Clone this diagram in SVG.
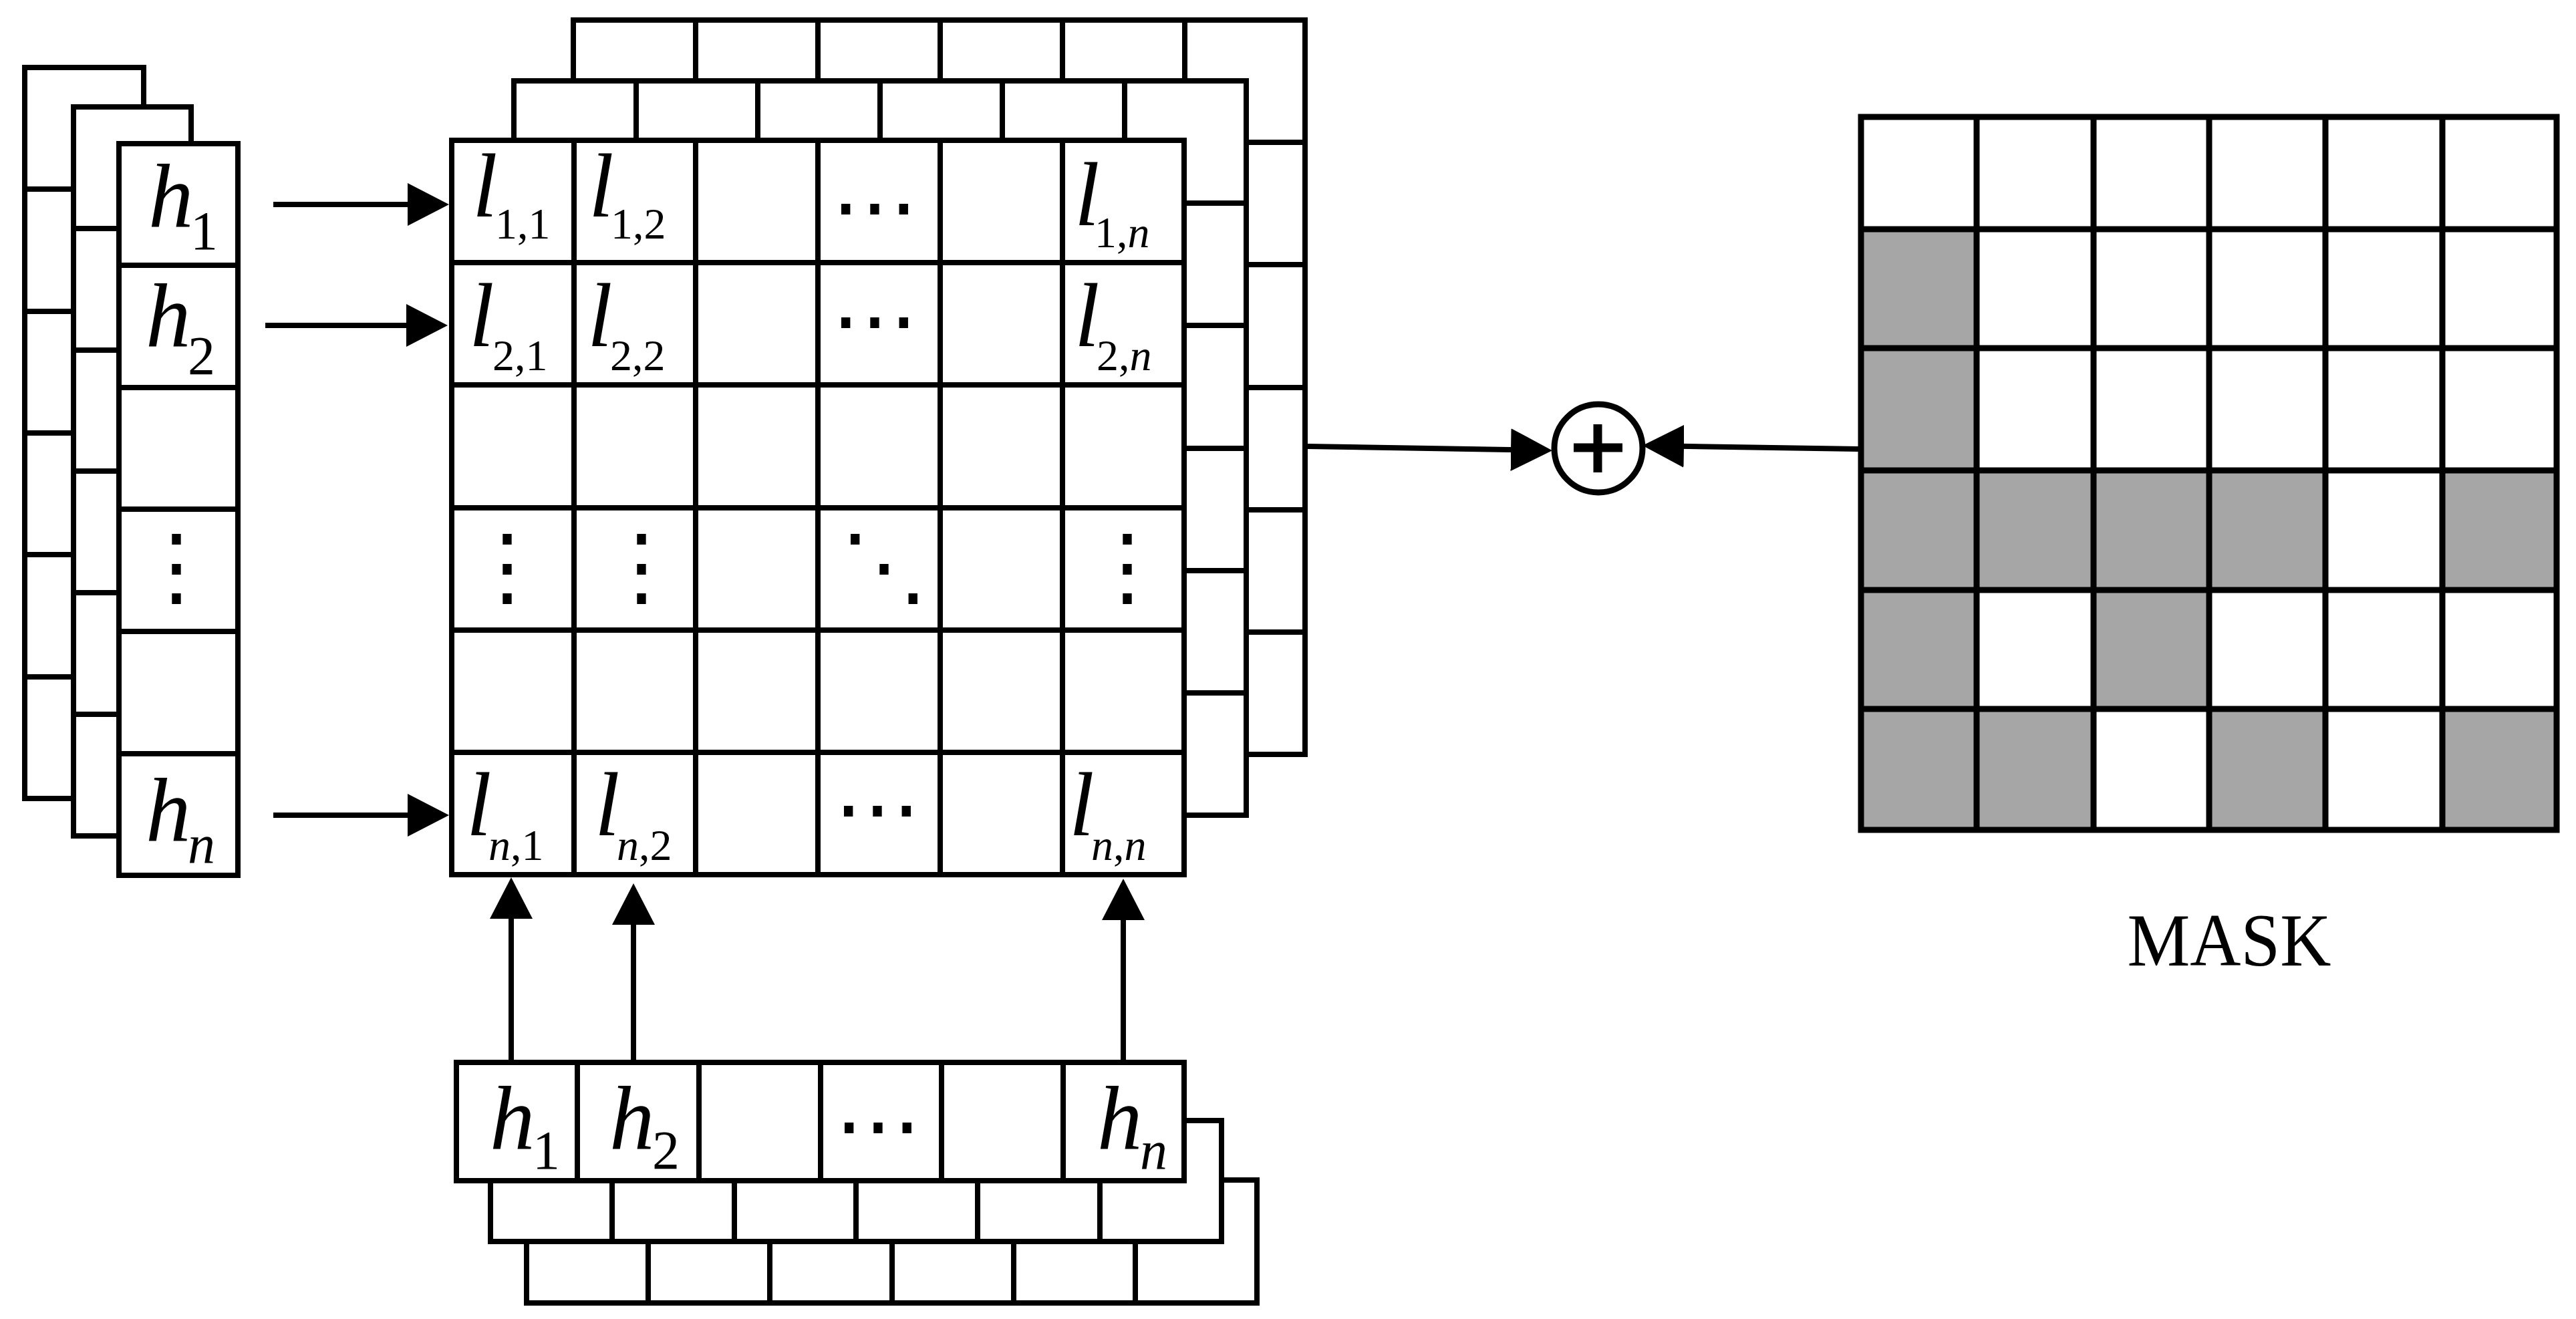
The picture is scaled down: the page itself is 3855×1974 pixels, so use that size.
<svg xmlns="http://www.w3.org/2000/svg" width="3855" height="1974" viewBox="0 0 3855 1974">
<defs>
<marker id="ah" markerUnits="userSpaceOnUse" markerWidth="62" markerHeight="64" viewBox="0 0 62 64" refX="52" refY="32" orient="auto"><path d="M0,0 L62,32 L0,64 Z" fill="#000"/></marker>
</defs>
<style>
.g{fill:#fff;stroke:#000;stroke-width:8}
.ln{stroke:#000;stroke-width:8;fill:none}
.mk{stroke:#000;stroke-width:9;fill:none}
.gr{fill:#a6a6a6;stroke:none}
.ar{stroke:#000;stroke-width:8;fill:none;marker-end:url(#ah)}
.it{font-family:"Liberation Serif","Times New Roman",serif;font-style:italic;font-size:135px}
.sb{font-family:"Liberation Serif","Times New Roman",serif;font-size:66px}
.hs{font-family:"Liberation Serif","Times New Roman",serif;font-size:82px}
.i{font-style:italic}
.dt{font-family:"DejaVu Serif",serif;font-size:130px;text-anchor:middle}
.lb{font-family:"Liberation Serif","Times New Roman",serif;font-size:112px}
</style>
<rect width="3855" height="1974" fill="#fff"/>

<g id="left-stack">
<g id="left-back"><rect class="g" x="37" y="101" width="178" height="1094"/><path class="ln" d="M37,283H215M37,466H215M37,648H215M37,830H215M37,1013H215"/></g>
<g id="left-mid"><rect class="g" x="110" y="160" width="176" height="1091"/><path class="ln" d="M110,342H286M110,524H286M110,705H286M110,887H286M110,1069H286"/></g>
<g id="left-front"><rect class="g" x="178" y="215" width="178" height="1095"/><path class="ln" d="M178,397H356M178,580H356M178,762H356M178,945H356M178,1128H356"/>
<text><tspan class="it" x="222" y="339">h</tspan><tspan class="hs" x="285" y="373">1</tspan></text>
<text><tspan class="it" x="218" y="518">h</tspan><tspan class="hs" x="281" y="560">2</tspan></text>
<text class="dt" x="264" y="892">⋮</text>
<text><tspan class="it" x="218" y="1258">h</tspan><tspan class="hs i" x="281" y="1291">n</tspan></text>
</g>
</g>

<g id="matrix">
<g id="matrix-back"><rect class="g" x="858" y="30" width="1095" height="1099"/><path class="ln" d="M1041,30V1129M1224,30V1129M1407,30V1129M1590,30V1129M1773,30V1129M858,213H1953M858,396H1953M858,580H1953M858,763H1953M858,946H1953"/></g>
<g id="matrix-mid"><rect class="g" x="769" y="121" width="1096" height="1099"/><path class="ln" d="M952,121V1220M1134,121V1220M1317,121V1220M1500,121V1220M1683,121V1220M769,304H1865M769,487H1865M769,671H1865M769,854H1865M769,1037H1865"/></g>
<g id="matrix-front"><rect class="g" x="676" y="210" width="1096" height="1099"/><path class="ln" d="M859,210V1309M1041,210V1309M1224,210V1309M1407,210V1309M1590,210V1309M676,393H1772M676,576H1772M676,760H1772M676,943H1772M676,1126H1772"/>
<text><tspan class="it" x="707" y="324">l</tspan><tspan class="sb" x="741" y="357">1,1</tspan></text>
<text><tspan class="it" x="881" y="324">l</tspan><tspan class="sb" x="914" y="357">1,2</tspan></text>
<text class="dt" x="1309" y="353">⋯</text>
<text><tspan class="it" x="1608" y="337">l</tspan><tspan class="sb" x="1638" y="370">1,<tspan class="i">n</tspan></tspan></text>
<text><tspan class="it" x="702" y="518">l</tspan><tspan class="sb" x="737" y="554">2,1</tspan></text>
<text><tspan class="it" x="879" y="518">l</tspan><tspan class="sb" x="913" y="554">2,2</tspan></text>
<text class="dt" x="1309" y="523">⋯</text>
<text><tspan class="it" x="1608" y="518">l</tspan><tspan class="sb" x="1641" y="554">2,<tspan class="i">n</tspan></tspan></text>
<text class="dt" x="759" y="892">⋮</text>
<text class="dt" x="960" y="892">⋮</text>
<text class="dt" x="1323" y="892">⋱</text>
<text class="dt" x="1687" y="892">⋮</text>
<text><tspan class="it" x="698" y="1250">l</tspan><tspan class="sb" x="731" y="1287"><tspan class="i">n</tspan>,1</tspan></text>
<text><tspan class="it" x="890" y="1250">l</tspan><tspan class="sb" x="923" y="1287"><tspan class="i">n</tspan>,2</tspan></text>
<text class="dt" x="1313" y="1254">⋯</text>
<text><tspan class="it" x="1600" y="1250">l</tspan><tspan class="sb" x="1633" y="1287"><tspan class="i">n</tspan>,<tspan class="i">n</tspan></tspan></text>
</g>
</g>

<g id="bottom-stack">
<g id="bottom-back"><rect class="g" x="788" y="1766" width="1093" height="184"/><path class="ln" d="M970,1766V1950M1152,1766V1950M1335,1766V1950M1517,1766V1950M1699,1766V1950"/></g>
<g id="bottom-mid"><rect class="g" x="734" y="1677" width="1094" height="181"/><path class="ln" d="M916,1677V1858M1099,1677V1858M1281,1677V1858M1463,1677V1858M1646,1677V1858"/></g>
<g id="bottom-front"><rect class="g" x="683" y="1590" width="1089" height="177"/><path class="ln" d="M864,1590V1767M1046,1590V1767M1228,1590V1767M1409,1590V1767M1591,1590V1767"/>
<text><tspan class="it" x="733" y="1719">h</tspan><tspan class="hs" x="797" y="1749">1</tspan></text>
<text><tspan class="it" x="912" y="1719">h</tspan><tspan class="hs" x="976" y="1749">2</tspan></text>
<text class="dt" x="1314" y="1728">⋯</text>
<text><tspan class="it" x="1642" y="1719">h</tspan><tspan class="hs i" x="1706" y="1749">n</tspan></text>
</g>
</g>

<g id="plus-node">
<circle cx="2392" cy="671" r="66" fill="#fff" stroke="#000" stroke-width="9"/>
<path d="M2355,670H2428M2391,635V707" stroke="#000" stroke-width="13" fill="none"/>
</g>

<g id="mask">
<rect x="2785" y="175" width="1041" height="1067" fill="#fff"/>
<rect class="gr" x="2785" y="343" width="173" height="178"/>
<rect class="gr" x="2785" y="521" width="173" height="183"/>
<rect class="gr" x="2785" y="704" width="695" height="179"/>
<rect class="gr" x="3655" y="704" width="171" height="179"/>
<rect class="gr" x="2785" y="883" width="173" height="178"/>
<rect class="gr" x="3133" y="883" width="173" height="178"/>
<rect class="gr" x="2785" y="1061" width="348" height="181"/>
<rect class="gr" x="3306" y="1061" width="174" height="181"/>
<rect class="gr" x="3655" y="1061" width="171" height="181"/>
<rect class="mk" x="2785" y="175" width="1041" height="1067"/>
<path class="mk" d="M2958,175V1242M3133,175V1242M3306,175V1242M3480,175V1242M3655,175V1242M2785,343H3826M2785,521H3826M2785,704H3826M2785,883H3826M2785,1061H3826"/>
<text class="lb" x="3336" y="1445" text-anchor="middle" textLength="305" lengthAdjust="spacingAndGlyphs">MASK</text>
</g>

<g id="connectors">
<line class="ar" x1="409" y1="306" x2="662" y2="306"/>
<line class="ar" x1="397" y1="487" x2="660" y2="487"/>
<line class="ar" x1="409" y1="1220" x2="662" y2="1220"/>
<line class="ar" x1="765" y1="1586" x2="765" y2="1323"/>
<line class="ar" x1="948" y1="1586" x2="948" y2="1332"/>
<line class="ar" x1="1681" y1="1586" x2="1681" y2="1325"/>
<line class="ar" x1="1957" y1="668" x2="2313" y2="674"/>
<line class="ar" x1="2781" y1="672" x2="2468" y2="667"/>
</g>
</svg>
